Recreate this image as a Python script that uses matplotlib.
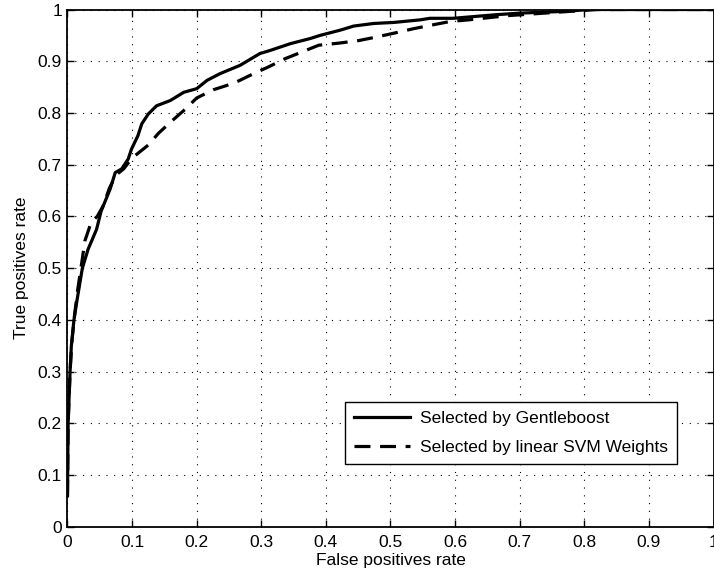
import matplotlib
matplotlib.use("Agg")
import matplotlib.pyplot as plt

plt.rcParams['font.family'] = ['Liberation Sans', 'DejaVu Sans']

# Gentleboost (solid)
gb_fpr = [0.0, 0.001, 0.004, 0.006, 0.010, 0.015, 0.023, 0.032, 0.045, 0.052,
          0.066, 0.074, 0.084, 0.094, 0.099, 0.109, 0.115, 0.125, 0.138, 0.159,
          0.180, 0.200, 0.216, 0.236, 0.267, 0.298, 0.314, 0.345, 0.376, 0.391,
          0.422, 0.443, 0.474, 0.505, 0.546, 0.561, 0.597, 0.664, 0.700, 0.762,
          0.810, 1.0]
gb_tpr = [0.06, 0.20, 0.30, 0.35, 0.40, 0.44, 0.50, 0.537, 0.575, 0.61,
          0.653, 0.685, 0.692, 0.711, 0.730, 0.756, 0.779, 0.798, 0.814, 0.824,
          0.840, 0.847, 0.863, 0.876, 0.892, 0.915, 0.921, 0.934, 0.944, 0.950,
          0.960, 0.968, 0.973, 0.975, 0.980, 0.983, 0.983, 0.990, 0.993, 0.996,
          1.0, 1.0]

# Linear SVM weights (dashed)
svm_fpr = [0.0, 0.001, 0.004, 0.007, 0.011, 0.016, 0.022, 0.027, 0.037, 0.046,
           0.055, 0.065, 0.075, 0.087, 0.095, 0.105, 0.125, 0.141, 0.161, 0.182,
           0.200, 0.226, 0.246, 0.265, 0.288, 0.311, 0.337, 0.363, 0.389, 0.420,
           0.451, 0.479, 0.508, 0.536, 0.564, 0.593, 0.621, 0.680, 0.750, 0.820,
           1.0]
svm_tpr = [0.06, 0.20, 0.30, 0.36, 0.41, 0.46, 0.51, 0.553, 0.590, 0.600,
           0.620, 0.655, 0.680, 0.692, 0.705, 0.718, 0.738, 0.761, 0.784, 0.807,
           0.829, 0.845, 0.853, 0.862, 0.876, 0.889, 0.905, 0.918, 0.931, 0.935,
           0.940, 0.947, 0.955, 0.963, 0.970, 0.977, 0.980, 0.988, 0.994, 1.0,
           1.0]

ticks = [0, 0.1, 0.2, 0.3, 0.4, 0.5, 0.6, 0.7, 0.8, 0.9, 1]
tick_labels = ['0', '0.1', '0.2', '0.3', '0.4', '0.5', '0.6', '0.7', '0.8', '0.9', '1']
labels = ['Selected by Gentleboost', 'Selected by linear SVM Weights']

fig = plt.figure(figsize=(7.14, 5.76), dpi=100)
ax = fig.add_axes([0.0945, 0.0851, 0.9993 - 0.0945, 0.9835 - 0.0851])

ax.plot(gb_fpr, gb_tpr, color='black', lw=2.3, solid_joinstyle='round', label=labels[0])
ax.plot(svm_fpr, svm_tpr, color='black', lw=2.3, linestyle=(0, (5, 3)), label=labels[1])

ax.set_xlim(0, 1)
ax.set_ylim(0, 1)
ax.set_xticks(ticks)
ax.set_xticklabels(tick_labels)
ax.set_yticks(ticks)
ax.set_yticklabels(tick_labels)
ax.tick_params(direction='in', top=True, right=True, length=5, width=1.0,
               labelsize=12.5, colors='black')
ax.tick_params(axis='x', pad=6)
ax.tick_params(axis='y', pad=4)
ax.grid(True, color='black', linestyle=(0, (1, 6)), linewidth=0.8)
for s in ax.spines.values():
    s.set_linewidth(1.3)
    s.set_color('black')

ax.set_xlabel('False positives rate', fontsize=12.5, labelpad=2)
ax.set_ylabel('True positives rate', fontsize=12.5, labelpad=6)

leg = ax.legend(loc='lower left', bbox_to_anchor=(0.43, 0.122), fontsize=12.5,
                handlelength=3.2, handletextpad=0.6, borderpad=0.5,
                labelspacing=0.8, fancybox=False, framealpha=1,
                edgecolor='black', borderaxespad=0)
leg.get_frame().set_linewidth(1.0)

fig.savefig('out.png', dpi=100)
